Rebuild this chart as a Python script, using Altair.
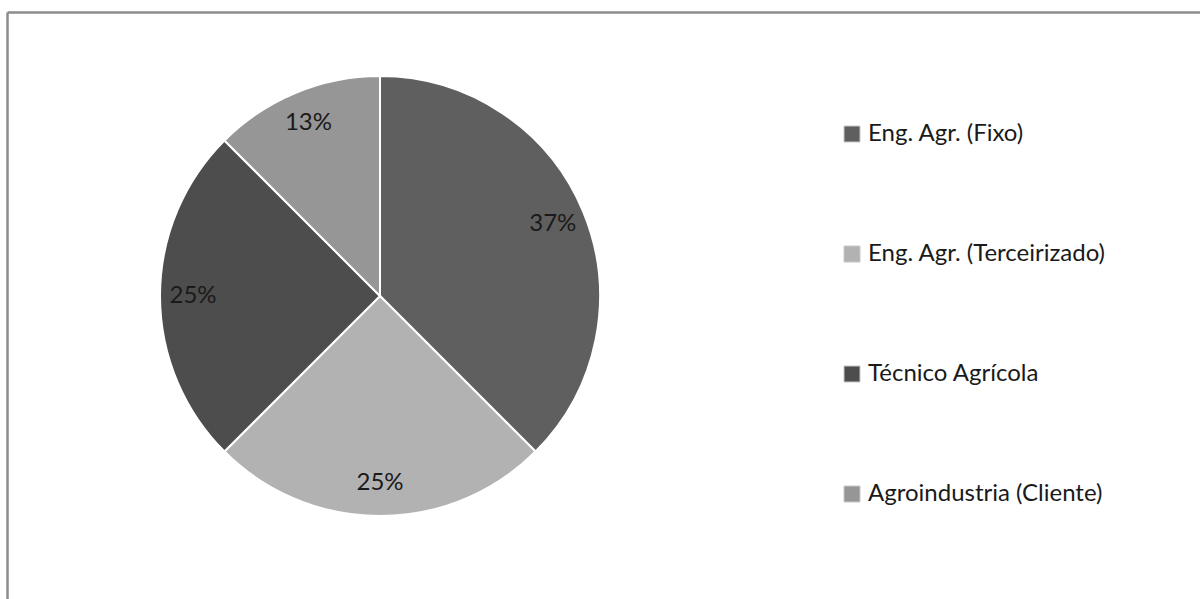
import altair as alt
import pandas as pd

categories = ["Eng. Agr. (Fixo)", "Eng. Agr. (Terceirizado)", "Técnico Agrícola", "Agroindustria (Cliente)"]
values = [37.5, 25, 25, 12.5]
labels = ["37%", "25%", "25%", "13%"]
colors = ["#5f5f5f", "#b2b2b2", "#4d4d4d", "#969696"]

df = pd.DataFrame({"cat": categories, "value": values, "label": labels, "idx": list(range(len(categories)))})
frame = pd.DataFrame({"k": [0]})

FONT = "Lato"

base = alt.Chart(df).encode(
    theta=alt.Theta("value:Q", stack=True),
    order=alt.Order("idx:Q"),
    x=alt.value(380),
    y=alt.value(296),
)

pie = base.mark_arc(outerRadius=220, stroke="white", strokeWidth=2).encode(
    color=alt.Color(
        "cat:N",
        sort=categories,
        scale=alt.Scale(domain=categories, range=colors),
        legend=alt.Legend(
            title=None,
            orient="none",
            legendX=840,
            legendY=122,
            symbolType="square",
            symbolSize=256,
            symbolStrokeColor="#c8c8c8",
            symbolStrokeWidth=1,
            labelFont=FONT,
            labelFontSize=24,
            labelColor="#1a1a1a",
            labelOffset=4,
            rowPadding=96,
            padding=0,
            labelLimit=400,
        ),
    )
)

text = base.mark_text(radius=187, font=FONT, fontSize=24, color="#1a1a1a").encode(
    text="label:N"
)

left_border = alt.Chart(frame).mark_rule(color="#8c8c8c", strokeWidth=2.5).encode(
    x=alt.value(7.5), y=alt.value(12.5), y2=alt.value(599)
)
top_border = alt.Chart(frame).mark_rule(color="#8c8c8c", strokeWidth=2.5).encode(
    x=alt.value(7.5), x2=alt.value(1200), y=alt.value(12.5)
)

chart = alt.layer(pie, text, left_border, top_border).properties(
    width=1200, height=599, padding=0, autosize=alt.AutoSizeParams(type="none"),
    background="white",
).configure_view(stroke=None)

chart.save("out.html", embed_options={"renderer": "svg", "actions": False})
